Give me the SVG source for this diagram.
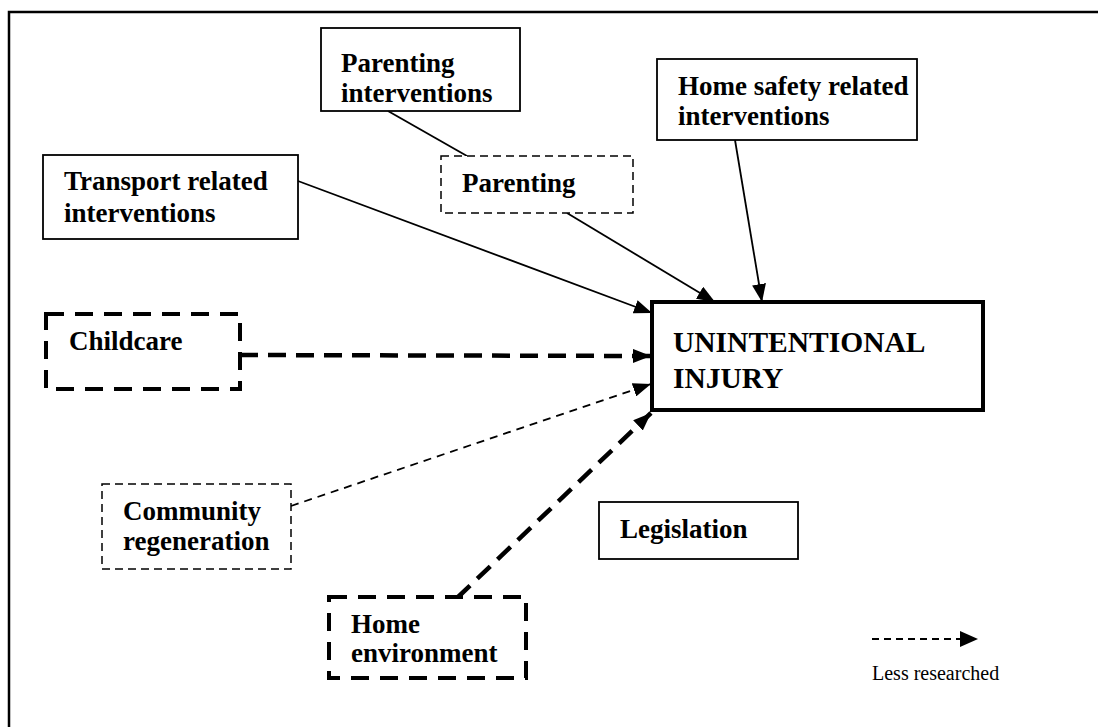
<svg xmlns="http://www.w3.org/2000/svg" width="1098" height="727" viewBox="0 0 1098 727">
<style>
text{font-family:"Liberation Serif","Times New Roman",serif;font-weight:bold;font-size:27px;fill:#000}
text.big{font-size:29.5px}
text.legend{font-weight:normal;font-size:20px}
.box{fill:#fff;stroke:#000;stroke-width:1.8}
.dthin{fill:#fff;stroke:#000;stroke-width:1.5;stroke-dasharray:8 5}
.dthick{fill:#fff;stroke:#000;stroke-width:4;stroke-dasharray:18 11}
.c{stroke:#000;stroke-width:1.8;fill:none}
.cthin{stroke:#000;stroke-width:1.8;fill:none;stroke-dasharray:8 6}
.cthick{stroke:#000;stroke-width:4.5;fill:none;stroke-dasharray:18 10}
</style>
<defs>
<marker id="ah" viewBox="0 0 18 14" refX="18" refY="7" markerWidth="18" markerHeight="14" markerUnits="userSpaceOnUse" orient="auto">
<path d="M0,0 L18,7 L0,14 Z" fill="#000"/>
</marker>
<marker id="ahl" viewBox="0 0 18 16" refX="18" refY="8" markerWidth="18" markerHeight="16" markerUnits="userSpaceOnUse" orient="auto">
<path d="M0,0 L18,8 L0,16 Z" fill="#000"/>
</marker>
</defs>
<rect x="9" y="12" width="1100" height="730" fill="#fff" stroke="#000" stroke-width="2.5"/>
<g id="connectors">
<line class="c" x1="388" y1="111" x2="467" y2="156"/>
<line class="c" x1="567" y1="213" x2="715" y2="302" marker-end="url(#ah)"/>
<line class="c" x1="735" y1="140" x2="762" y2="302" marker-end="url(#ah)"/>
<line class="c" x1="298" y1="181" x2="652" y2="313" marker-end="url(#ah)"/>
<line class="cthick" x1="240" y1="355" x2="651" y2="356" marker-end="url(#ah)"/>
<line class="cthin" x1="291" y1="506" x2="651" y2="384" marker-end="url(#ah)"/>
<line class="cthick" x1="457" y1="598" x2="651" y2="413" marker-end="url(#ah)"/>
<line class="cthin" x1="872" y1="639" x2="978" y2="639" style="stroke-dasharray:7 5" marker-end="url(#ahl)"/>
</g>
<g id="parenting-interventions">
<rect class="box" x="321" y="28" width="199" height="83"/>
<text x="341" y="72">Parenting</text>
<text x="341" y="102">interventions</text>
</g>
<g id="parenting">
<rect class="dthin" x="441" y="156" width="192" height="57"/>
<text x="462" y="192">Parenting</text>
</g>
<g id="home-safety">
<rect class="box" x="657" y="59" width="260" height="81"/>
<text x="678" y="95">Home safety related</text>
<text x="678" y="125">interventions</text>
</g>
<g id="transport">
<rect class="box" x="43" y="155" width="255" height="84"/>
<text x="64" y="190">Transport related</text>
<text x="64" y="222">interventions</text>
</g>
<g id="childcare">
<rect class="dthick" x="46" y="314" width="194" height="75"/>
<text x="69" y="350">Childcare</text>
</g>
<g id="community">
<rect class="dthin" x="102" y="484" width="189" height="85"/>
<text x="123" y="520">Community</text>
<text x="123" y="550">regeneration</text>
</g>
<g id="unintentional-injury">
<rect fill="#fff" stroke="#000" stroke-width="4" x="652" y="302" width="331" height="108"/>
<text class="big" x="673" y="352">UNINTENTIONAL</text>
<text class="big" x="673" y="388">INJURY</text>
</g>
<g id="legislation">
<rect class="box" x="599" y="502" width="199" height="57"/>
<text x="620" y="538">Legislation</text>
</g>
<g id="home-environment">
<rect class="dthick" x="329" y="597" width="197" height="81"/>
<text x="351" y="633">Home</text>
<text x="351" y="662">environment</text>
</g>
<g id="legend">
<text class="legend" x="872" y="680">Less researched</text>
</g>
</svg>
